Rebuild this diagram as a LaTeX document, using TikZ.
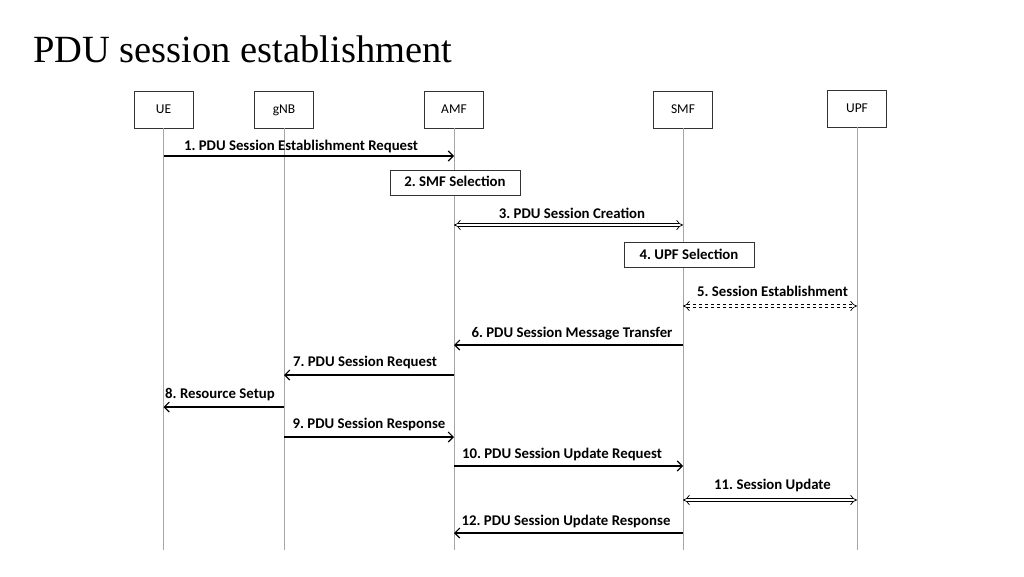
\documentclass[tikz,border=0pt]{standalone}
\usepackage{fontspec}
\setmainfont{Liberation Serif}
\newfontfamily\calfont{Carlito}
\usetikzlibrary{arrows.meta}
\begin{document}
\frenchspacing
\begin{tikzpicture}[x=1pt,y=-1pt,
  actor/.style={draw=black!80,line width=0.7pt,minimum width=59pt,minimum height=37pt,inner sep=0pt,text height=9pt,text depth=2pt,font=\calfont\fontsize{13.5}{13.5}\selectfont},
  stepbox/.style={draw=black!80,line width=0.7pt,minimum width=130pt,minimum height=25pt,inner sep=0pt,text height=10pt,text depth=2pt,font=\calfont\bfseries\fontsize{14.8}{14.8}\selectfont},
  life/.style={draw=black!35,line width=0.8pt},
  msg/.style={draw=black,line width=1.1pt,-{Straight Barb[length=5pt,width=10pt]}},
  dmsg/.style={draw=black,double,double distance=2.8pt,line width=0.7pt,{Implies[length=5pt]}-{Implies[length=5pt]}},
  lbl/.style={font=\calfont\bfseries\fontsize{14.8}{14.8}\selectfont,inner sep=0pt}]
\useasboundingbox (0,0) rectangle (1024,576);
\node[anchor=base west,font=\fontsize{38.5}{38.5}\selectfont,inner sep=0pt] (title) at (33,62) {PDU session establishment};
% actors
\node[actor] (ue) at (163.5,109.5) {UE};
\node[actor] (gnb) at (284,109.5) {gNB};
\node[actor] (amf) at (454,109.5) {AMF};
\node[actor] (smf) at (683,109.5) {SMF};
\node[actor] (upf) at (857,108.5) {UPF};
% lifeline ends
\coordinate (ueE) at (163.5,550);
\coordinate (gnbE) at (284,550);
\coordinate (amfE) at (454,550);
\coordinate (smfE) at (683,550);
\coordinate (upfE) at (857,550);
\draw[life] (ue) -- (ueE);
\draw[life] (gnb) -- (gnbE);
\draw[life] (amf) -- (amfE);
\draw[life] (smf) -- (smfE);
\draw[life] (upf) -- (upfE);
% step boxes
\node[stepbox,fill=white] (s2) at (455,182.5) {2. SMF Selection};
\node[stepbox,fill=white] (s4) at (689,255) {4. UPF Selection};
% messages
\draw[msg] (ue |- 0,156) -- (amf |- 0,156);
\node[lbl] (l1) at (301,146.5) {1. PDU Session Establishment Request};
\draw[dmsg] (amf |- 0,225) -- (smf |- 0,225);
\node[lbl] (l3) at (572,213.5) {3. PDU Session Creation};
\draw[dmsg,dashed] (smf |- 0,306) -- (upf |- 0,306);
\node[lbl] (l5) at (772.5,291.5) {5. Session Establishment};
\draw[msg] (smf |- 0,345) -- (amf |- 0,345);
\node[lbl] (l6) at (572,333.5) {6. PDU Session Message Transfer};
\draw[msg] (amf |- 0,375) -- (gnb |- 0,375);
\node[lbl] (l7) at (365,362.5) {7. PDU Session Request};
\draw[msg] (gnb |- 0,407) -- (ue |- 0,407);
\node[lbl] (l8) at (220,394.5) {8. Resource Setup};
\draw[msg] (gnb |- 0,437) -- (amf |- 0,437);
\node[lbl] (l9) at (369,424.5) {9. PDU Session Response};
\draw[msg] (amf |- 0,466) -- (smf |- 0,466);
\node[lbl] (l10) at (562,454.5) {10. PDU Session Update Request};
\draw[dmsg] (smf |- 0,500) -- (upf |- 0,500);
\node[lbl] (l11) at (772.5,485.5) {11. Session Update};
\draw[msg] (smf |- 0,533) -- (amf |- 0,533);
\node[lbl] (l12) at (566,521.5) {12. PDU Session Update Response};
\end{tikzpicture}
\end{document}
